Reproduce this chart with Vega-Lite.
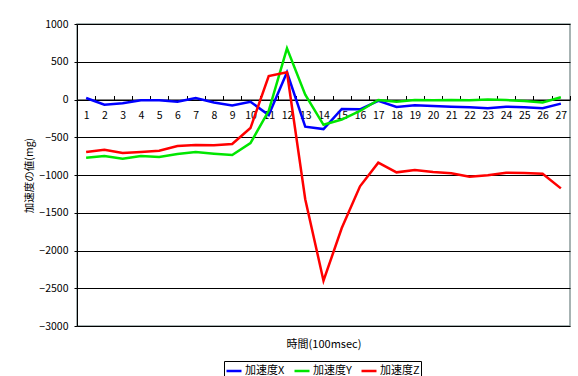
{
  "$schema": "https://vega.github.io/schema/vega-lite/v6.json",
  "width": 493,
  "height": 302,
  "autosize": {"type": "none"},
  "padding": {"left": 77, "top": 24, "right": 8, "bottom": 50},
  "background": "white",
  "config": {
    "font": "Noto Sans CJK JP",
    "view": {"stroke": "#8a9a9a", "strokeWidth": 1.5}
  },
  "datasets": {
    "accel": [
      {"t": 1, "axis": "加速度X", "v": 20}, {"t": 2, "axis": "加速度X", "v": -70}, {"t": 3, "axis": "加速度X", "v": -50},
      {"t": 4, "axis": "加速度X", "v": -10}, {"t": 5, "axis": "加速度X", "v": -10}, {"t": 6, "axis": "加速度X", "v": -30},
      {"t": 7, "axis": "加速度X", "v": 20}, {"t": 8, "axis": "加速度X", "v": -40}, {"t": 9, "axis": "加速度X", "v": -80},
      {"t": 10, "axis": "加速度X", "v": -30}, {"t": 11, "axis": "加速度X", "v": -206}, {"t": 12, "axis": "加速度X", "v": 360},
      {"t": 13, "axis": "加速度X", "v": -360}, {"t": 14, "axis": "加速度X", "v": -392}, {"t": 15, "axis": "加速度X", "v": -125},
      {"t": 16, "axis": "加速度X", "v": -130}, {"t": 17, "axis": "加速度X", "v": -18}, {"t": 18, "axis": "加速度X", "v": -100},
      {"t": 19, "axis": "加速度X", "v": -77}, {"t": 20, "axis": "加速度X", "v": -86}, {"t": 21, "axis": "加速度X", "v": -95},
      {"t": 22, "axis": "加速度X", "v": -103}, {"t": 23, "axis": "加速度X", "v": -115}, {"t": 24, "axis": "加速度X", "v": -95},
      {"t": 25, "axis": "加速度X", "v": -103}, {"t": 26, "axis": "加速度X", "v": -115}, {"t": 27, "axis": "加速度X", "v": -55},

      {"t": 1, "axis": "加速度Y", "v": -771}, {"t": 2, "axis": "加速度Y", "v": -749}, {"t": 3, "axis": "加速度Y", "v": -784},
      {"t": 4, "axis": "加速度Y", "v": -749}, {"t": 5, "axis": "加速度Y", "v": -762}, {"t": 6, "axis": "加速度Y", "v": -722},
      {"t": 7, "axis": "加速度Y", "v": -696}, {"t": 8, "axis": "加速度Y", "v": -718}, {"t": 9, "axis": "加速度Y", "v": -735},
      {"t": 10, "axis": "加速度Y", "v": -578}, {"t": 11, "axis": "加速度Y", "v": -150}, {"t": 12, "axis": "加速度Y", "v": 678},
      {"t": 13, "axis": "加速度Y", "v": 65}, {"t": 14, "axis": "加速度Y", "v": -335}, {"t": 15, "axis": "加速度Y", "v": -265},
      {"t": 16, "axis": "加速度Y", "v": -152}, {"t": 17, "axis": "加速度Y", "v": -7}, {"t": 18, "axis": "加速度Y", "v": -30},
      {"t": 19, "axis": "加速度Y", "v": -7}, {"t": 20, "axis": "加速度Y", "v": -10}, {"t": 21, "axis": "加速度Y", "v": -7},
      {"t": 22, "axis": "加速度Y", "v": -10}, {"t": 23, "axis": "加速度Y", "v": 0}, {"t": 24, "axis": "加速度Y", "v": -7},
      {"t": 25, "axis": "加速度Y", "v": -20}, {"t": 26, "axis": "加速度Y", "v": -40}, {"t": 27, "axis": "加速度Y", "v": 29},

      {"t": 1, "axis": "加速度Z", "v": -696}, {"t": 2, "axis": "加速度Z", "v": -665}, {"t": 3, "axis": "加速度Z", "v": -709},
      {"t": 4, "axis": "加速度Z", "v": -696}, {"t": 5, "axis": "加速度Z", "v": -678}, {"t": 6, "axis": "加速度Z", "v": -616},
      {"t": 7, "axis": "加速度Z", "v": -603}, {"t": 8, "axis": "加速度Z", "v": -607}, {"t": 9, "axis": "加速度Z", "v": -590},
      {"t": 10, "axis": "加速度Z", "v": -378}, {"t": 11, "axis": "加速度Z", "v": 311}, {"t": 12, "axis": "加速度Z", "v": 360},
      {"t": 13, "axis": "加速度Z", "v": -1320}, {"t": 14, "axis": "加速度Z", "v": -2400}, {"t": 15, "axis": "加速度Z", "v": -1703},
      {"t": 16, "axis": "加速度Z", "v": -1150}, {"t": 17, "axis": "加速度Z", "v": -837}, {"t": 18, "axis": "加速度Z", "v": -965},
      {"t": 19, "axis": "加速度Z", "v": -934}, {"t": 20, "axis": "加速度Z", "v": -961}, {"t": 21, "axis": "加速度Z", "v": -978},
      {"t": 22, "axis": "加速度Z", "v": -1022}, {"t": 23, "axis": "加速度Z", "v": -1004}, {"t": 24, "axis": "加速度Z", "v": -970},
      {"t": 25, "axis": "加速度Z", "v": -974}, {"t": 26, "axis": "加速度Z", "v": -983}, {"t": 27, "axis": "加速度Z", "v": -1177}
    ]
  },
  "data": {"name": "accel"},
  "mark": {"type": "line", "strokeWidth": 2.5, "clip": false},
  "encoding": {
    "x": {
      "field": "t",
      "type": "ordinal",
      "bandPosition": 0.5,
      "scale": {"type": "band", "paddingInner": 0, "paddingOuter": 0},
      "axis": {
        "title": "時間(100msec)",
        "titleFontSize": 11,
        "titleFontWeight": "normal",
        "titleColor": "black",
        "titleY": 239,
        "titleBaseline": "top",
        "offset": -226.5,
        "labelAngle": 0,
        "labelFontSize": 10.5,
        "labelColor": "black",
        "labelPadding": 15,
        "tickBand": "extent",
        "tickSize": -4,
        "tickColor": "black",
        "domainColor": "black",
        "grid": false
      }
    },
    "y": {
      "field": "v",
      "type": "quantitative",
      "scale": {"domain": [-3000, 1000], "nice": false, "zero": false},
      "axis": {
        "values": [-3000, -2500, -2000, -1500, -1000, -500, 0, 500, 1000],
        "format": "d",
        "title": "加速度の値(mg)",
        "titleFontSize": 10.5,
        "titleFontWeight": "normal",
        "titleColor": "black",
        "titleAngle": 270,
        "titleAlign": "center",
        "titleBaseline": "middle",
        "titleX": -48,
        "titleY": 151,
        "labelFontSize": 10.5,
        "labelColor": "black",
        "labelPadding": 6,
        "tickSize": 3,
        "tickColor": "black",
        "domainColor": "black",
        "gridColor": "black",
        "gridOpacity": 1,
        "gridWidth": 1
      }
    },
    "color": {
      "field": "axis",
      "type": "nominal",
      "scale": {
        "domain": ["加速度X", "加速度Y", "加速度Z"],
        "range": ["#0000ff", "#00e600", "#ff0000"]
      },
      "legend": {
        "title": null,
        "orient": "none",
        "direction": "horizontal",
        "legendX": 147,
        "legendY": 337,
        "symbolType": "stroke",
        "symbolSize": 225,
        "symbolStrokeWidth": 2.5,
        "labelFontSize": 11,
        "labelColor": "black",
        "labelOffset": 2,
        "columnPadding": 4,
        "padding": 1,
        "strokeColor": "black",
        "fillColor": "white"
      }
    }
  }
}
